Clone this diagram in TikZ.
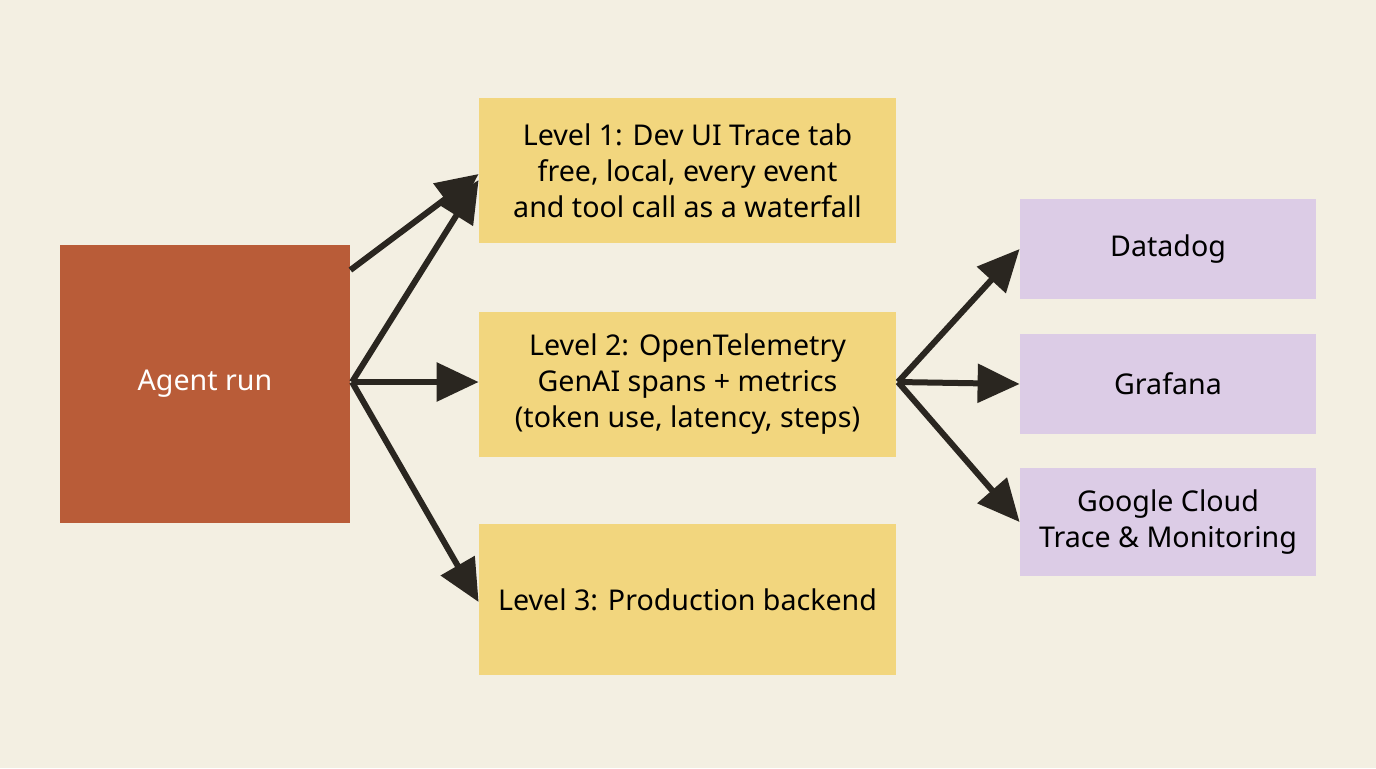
\documentclass[tikz,border=0pt]{standalone}
\usepackage{fontspec}
\setmainfont{Noto Sans}
\usetikzlibrary{arrows.meta}
\definecolor{bgcream}{HTML}{F3EFE2}
\definecolor{runred}{HTML}{B95C38}
\definecolor{lvlyellow}{HTML}{F2D67E}
\definecolor{backlilac}{HTML}{DCCCE6}
\definecolor{arrowdark}{HTML}{2A2620}
\tikzset{
	box/.style={draw=none, minimum width=417*0.5pt, minimum height=145*0.5pt, align=center, font=\fontsize{14.3}{18}\selectfont, fill=lvlyellow, inner sep=0pt},
	back/.style={box, fill=backlilac, minimum width=296*0.5pt, minimum height=100*0.5pt},
	flow/.style={line width=3pt, draw=arrowdark, -{Triangle[length=21pt, width=19pt]}}
}
\begin{document}
\begin{tikzpicture}[x=0.5pt,y=-0.5pt]

	\fill[bgcream] (0,0) rectangle (1376,768);

	\node (run) [box, fill=runred, text=white, minimum width=290*0.5pt, minimum height=278*0.5pt] at (205,384) {Agent run};
	\node (lvl1) [box] at (687.5,170.5) {Level 1: Dev UI Trace tab\\free, local, every event\\and tool call as a waterfall};
	\node (lvl2) [box] at (687.5,384.5) {Level 2: OpenTelemetry\\GenAI spans + metrics\\(token use, latency, steps)};
	\node (lvl3) [box, minimum height=151*0.5pt] at (687.5,599.5) {Level 3: Production backend};
	\node (dd) [back] at (1168,249) {Datadog};
	\node (gf) [back] at (1168,384) {Grafana};
	\node (gc) [back, minimum height=108*0.5pt] at (1168,522) {Google Cloud\\Trace \& Monitoring};

	\coordinate (hub) at (352,382);
	\coordinate (fan) at (898,382);

	\draw[flow] (run.east |- 0,270) -- (lvl1.west |- 0,174);
	\draw[flow] (hub) -- (lvl1.west |- 0,180);
	\draw[flow] (hub) -- (lvl2.west |- hub);
	\draw[flow] (hub) -- (lvl3.west |- 0,602);
	\draw[flow] (fan) -- (dd.west);
	\draw[flow] (fan) -- (gf.west);
	\draw[flow] (fan) -- (gc.west);

\end{tikzpicture}
\end{document}
